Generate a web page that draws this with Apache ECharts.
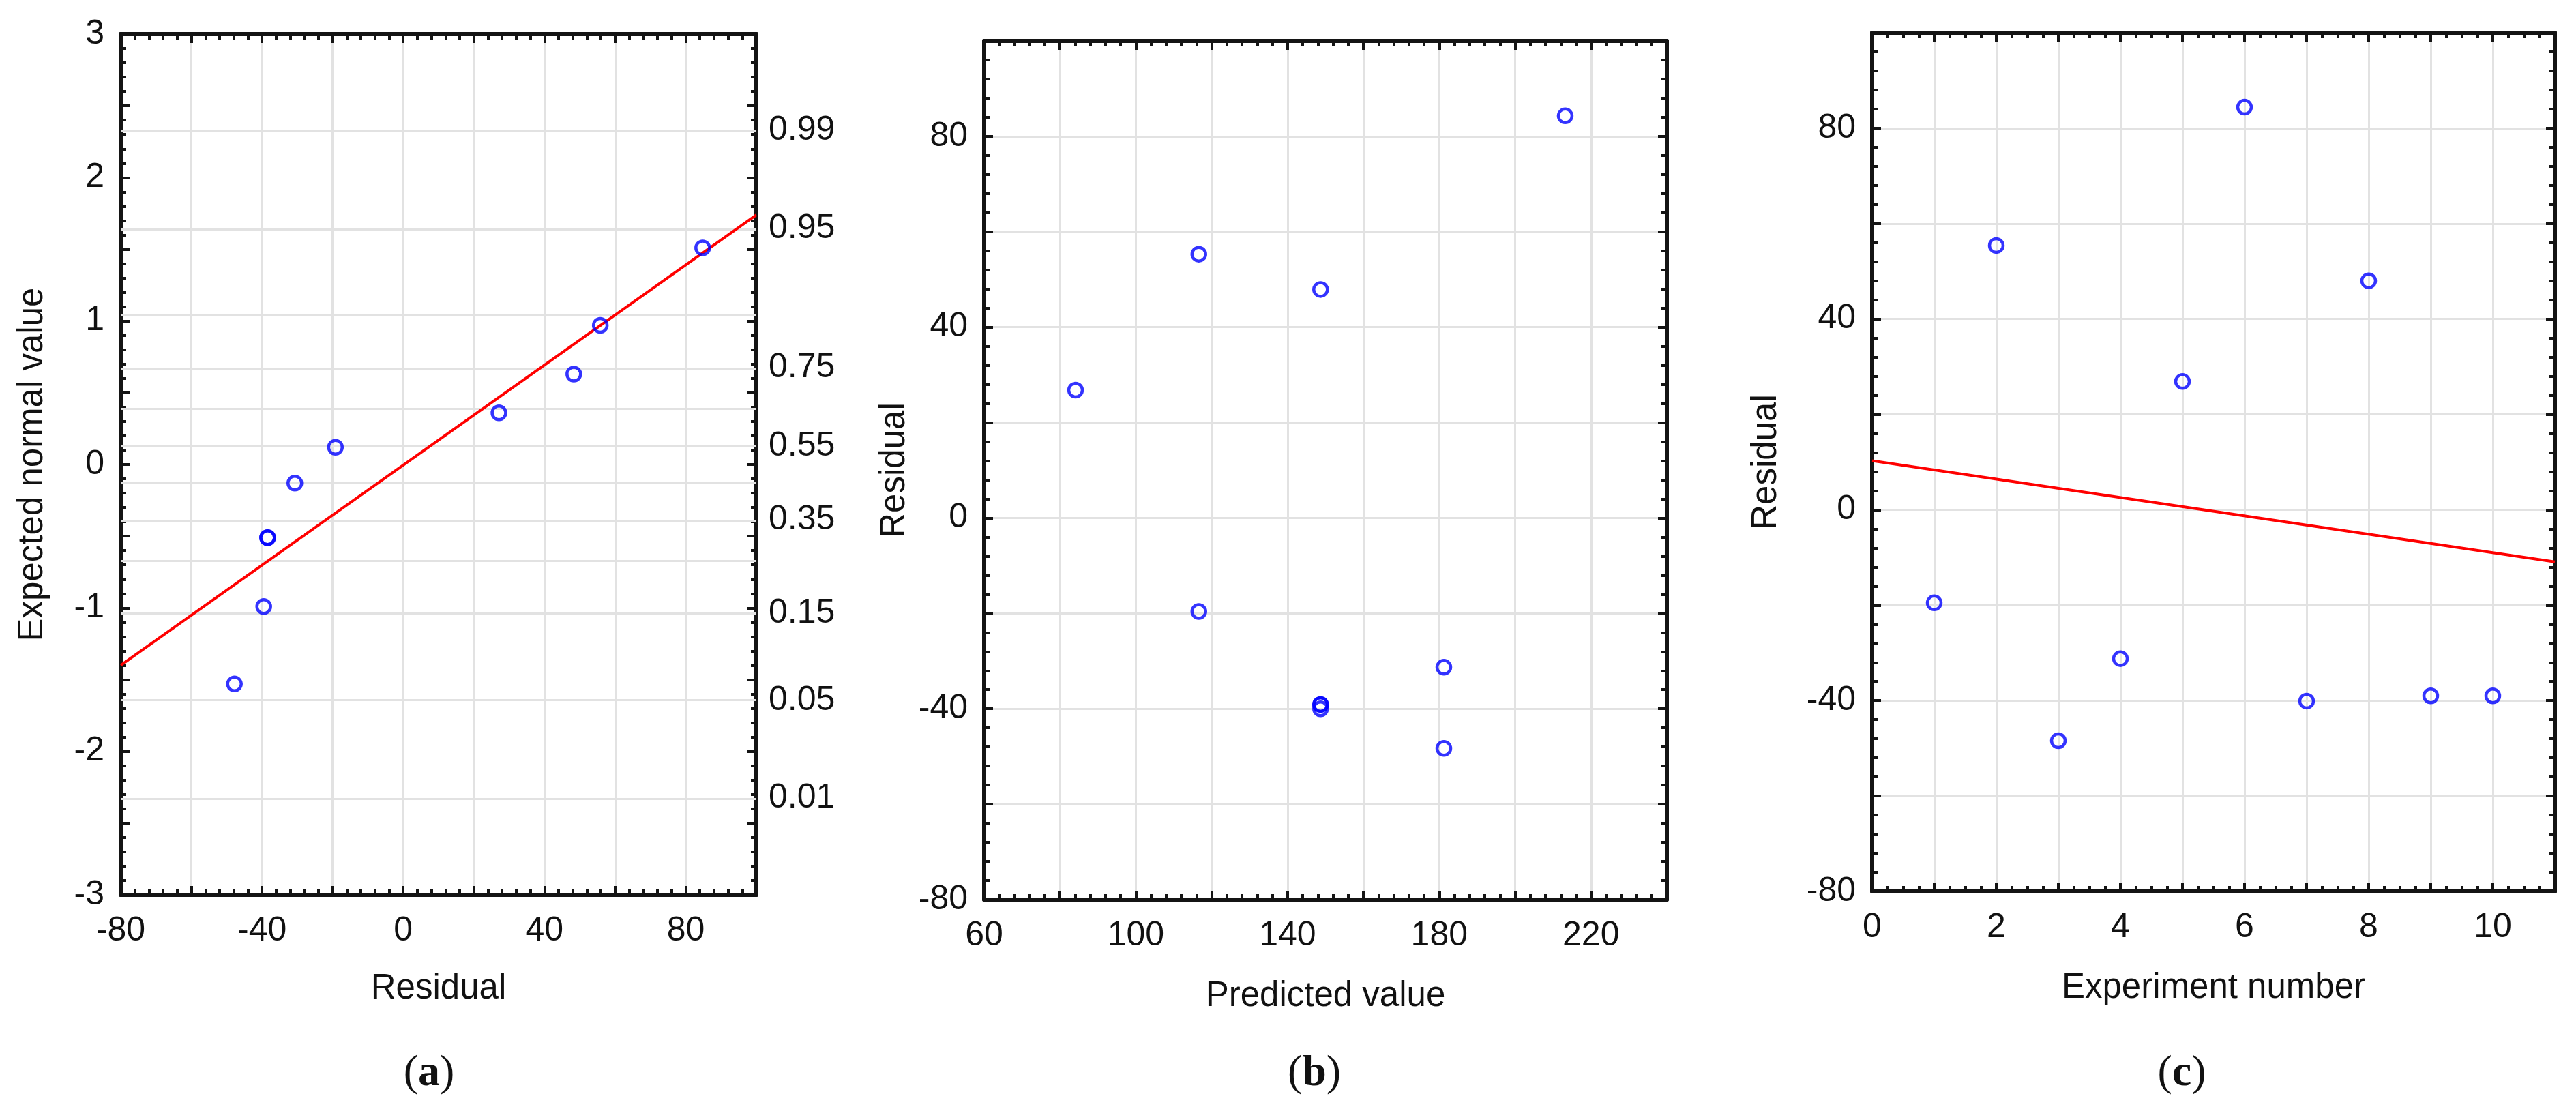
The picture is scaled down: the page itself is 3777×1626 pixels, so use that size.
<!DOCTYPE html>
<html>
<head>
<meta charset="utf-8">
<title>Residual analysis</title>
<script src="https://cdn.jsdelivr.net/npm/echarts@6/dist/echarts.min.js"></script>
<style>
  html, body { margin: 0; padding: 0; background: #fff; }
  #chart { width: 3777px; height: 1626px; }
</style>
</head>
<body>
<div id="chart"></div>
<script>
  // (a) normal probability plot of the residuals
  var residualA = [-47.8, -39.5, -38.4, -38.4, -30.7, -19.2, 27.1, 48.3, 55.8, 84.8]
  var expectedNormal = [-1.53, -0.99, -0.51, -0.51, -0.13, 0.12, 0.36, 0.63, 0.97, 1.51]
  var fitAx = [-80, 100]
  var fitAy = [-1.40, 1.74]
  // probability levels on the right axis (grid lines at all, labels at some)
  var probGrid = [0.01, 0.05, 0.15, 0.25, 0.35, 0.45, 0.55, 0.65, 0.75, 0.85, 0.95, 0.99]
  var probLabels = ['0.01', '0.05', '0.15', '0.35', '0.55', '0.75', '0.95', '0.99']

  // (b) residual vs predicted value
  var predicted = [84.1, 116.6, 116.6, 148.7, 148.7, 148.7, 148.7, 181.2, 181.2, 213.2]
  var residualB = [26.8, 55.3, -19.6, 47.9, -39.1, -39.1, -40.0, -31.3, -48.3, 84.3]

  // (c) residual vs experiment number
  var experiment = [1, 2, 3, 4, 5, 6, 7, 8, 9, 10]
  var residualC = [-19.5, 55.4, -48.4, -31.2, 26.9, 84.4, -40.1, 48.0, -39.0, -39.0]
  var fitCx = [0, 11]
  var fitCy = [10.3, -10.9]

  // inverse standard normal (Acklam), used to place the probability scale
  function normInv(p) {
    var a = [-39.69683028665376, 220.9460984245205, -275.9285104469687, 138.3577518672690, -30.66479806614716, 2.506628277459239]
    var b = [-54.47609879822406, 161.5858368580409, -155.6989798598866, 66.80131188771972, -13.28068155288572]
    var c = [-0.007784894002430293, -0.3223964580411365, -2.400758277161838, -2.549732539343734, 4.374664141464968, 2.938163982698783]
    var d = [0.007784695709041462, 0.3224671290700398, 2.445134137142996, 3.754408661907416]
    var q, r
    if (p < 0.02425 || p > 0.97575) {
      q = Math.sqrt(-2 * Math.log(p < 0.5 ? p : 1 - p))
      var z = (((((c[0] * q + c[1]) * q + c[2]) * q + c[3]) * q + c[4]) * q + c[5]) /
        ((((d[0] * q + d[1]) * q + d[2]) * q + d[3]) * q + 1)
      return p < 0.5 ? z : -z
    }
    q = p - 0.5
    r = q * q
    return (((((a[0] * r + a[1]) * r + a[2]) * r + a[3]) * r + a[4]) * r + a[5]) * q /
      (((((b[0] * r + b[1]) * r + b[2]) * r + b[3]) * r + b[4]) * r + 1)
  }

  function zip(xs, ys) {
    return xs.map(function(x, i) { return [x, ys[i]] })
  }

  var FONT = 'Liberation Sans, Arial, sans-serif'
  var axisColor = '#141414'
  var gridColor = '#e2e2e2'

  // label only every `step`, counted from `base`
  function every(step, base) {
    base = base || 0
    return function(v) {
      var k = (v - base) / step
      return Math.abs(k - Math.round(k)) < 1e-6 ? String(Math.round(v * 100) / 100) : ''
    }
  }

  function axis(o) {
    return {
      type: 'value',
      gridIndex: o.grid,
      position: o.pos,
      min: o.min,
      max: o.max,
      interval: o.interval,
      axisLine: { show: true, onZero: false, lineStyle: { color: axisColor, width: 6 } },
      axisTick: { show: true, inside: true, length: 13, lineStyle: { color: axisColor, width: 4 } },
      minorTick: { show: true, splitNumber: o.minor, length: 8, lineStyle: { color: axisColor, width: 4 } },
      axisLabel: o.label ? {
        show: true, margin: o.margin, formatter: o.label, hideOverlap: false,
        fontFamily: FONT, fontSize: 50, color: '#111'
      } : { show: false },
      splitLine: { show: !!o.split, lineStyle: { color: gridColor, width: 3 } },
      name: o.name || '',
      nameLocation: 'middle',
      nameGap: o.nameGap,
      nameTextStyle: { fontFamily: FONT, fontSize: 51, color: '#111' }
    }
  }

  var probZ = probLabels.map(function(p) { return normInv(parseFloat(p)) })

  var xAxes = [
    axis({ grid: 0, pos: 'bottom', min: -80, max: 100, interval: 20, minor: 5, split: true, label: every(40), margin: 28, name: 'Residual', nameGap: 112 }),
    axis({ grid: 0, pos: 'top', min: -80, max: 100, interval: 20, minor: 5 }),
    axis({ grid: 1, pos: 'bottom', min: 60, max: 240, interval: 20, minor: 5, split: true, label: every(40, 60), margin: 28, name: 'Predicted value', nameGap: 116 }),
    axis({ grid: 1, pos: 'top', min: 60, max: 240, interval: 20, minor: 5 }),
    axis({ grid: 2, pos: 'bottom', min: 0, max: 11, interval: 1, minor: 4, split: true, label: every(2), margin: 28, name: 'Experiment number', nameGap: 116 }),
    axis({ grid: 2, pos: 'top', min: 0, max: 11, interval: 1, minor: 4 })
  ]

  var yAxes = [
    axis({ grid: 0, pos: 'left', min: -3, max: 3, interval: 0.5, minor: 5, label: every(1), margin: 24, name: 'Expected normal value', nameGap: 104 }),
    axis({ grid: 0, pos: 'right', min: -3, max: 3, interval: 0.5, minor: 5 }),
    {
      type: 'value', gridIndex: 0, position: 'right', min: -3, max: 3,
      axisLine: { show: false }, axisTick: { show: false }, splitLine: { show: false },
      axisLabel: {
        customValues: probZ,
        margin: 18,
        hideOverlap: false,
        fontFamily: FONT, fontSize: 50, color: '#111',
        formatter: function(v) {
          for (var i = 0; i < probZ.length; i++) {
            if (Math.abs(probZ[i] - v) < 1e-6) return probLabels[i]
          }
          return ''
        }
      }
    },
    axis({ grid: 1, pos: 'left', min: -80, max: 100, interval: 20, minor: 5, split: true, label: every(40), margin: 24, name: 'Residual', nameGap: 106 }),
    axis({ grid: 1, pos: 'right', min: -80, max: 100, interval: 20, minor: 5 }),
    axis({ grid: 2, pos: 'left', min: -80, max: 100, interval: 20, minor: 5, split: true, label: every(40), margin: 24, name: 'Residual', nameGap: 130 }),
    axis({ grid: 2, pos: 'right', min: -80, max: 100, interval: 20, minor: 5 })
  ]

  var marker = {
    type: 'scatter',
    symbol: 'circle',
    symbolSize: 20,
    z: 4,
    itemStyle: { color: 'rgba(0,0,0,0)', borderColor: '#0000ff', borderWidth: 4.5 }
  }

  function scatter(xi, yi, data) {
    return Object.assign({}, marker, { xAxisIndex: xi, yAxisIndex: yi, data: data })
  }

  function fitLine(xi, yi, data, extra) {
    return Object.assign({
      type: 'line', xAxisIndex: xi, yAxisIndex: yi, data: data,
      symbol: 'none', z: 3,
      lineStyle: { color: '#ff0000', width: 4 }
    }, extra || {})
  }

  function panelTag(letter, x) {
    return {
      type: 'text', x: x, y: 1574,
      style: {
        text: '{p|(}{b|' + letter + '}{p|)}',
        align: 'center', verticalAlign: 'middle',
        rich: {
          p: { fontFamily: 'Liberation Serif, Times New Roman, serif', fontSize: 64, fill: '#111' },
          b: { fontFamily: 'Liberation Serif, Times New Roman, serif', fontSize: 64, fontWeight: 'bold', fill: '#111' }
        }
      }
    }
  }

  var chart = echarts.init(document.getElementById('chart'), null, { renderer: 'canvas' })
  var option = {
    backgroundColor: '#ffffff',
    animation: false,
    grid: [
      { left: 177, top: 50, width: 932, height: 1262 },
      { left: 1443, top: 60, width: 1001, height: 1259 },
      { left: 2745, top: 48, width: 1001, height: 1259 }
    ],
    xAxis: xAxes,
    yAxis: yAxes,
    series: [
      fitLine(0, 0, zip(fitAx, fitAy), {
        markLine: {
          silent: true,
          symbol: 'none',
          z: 1,
          label: { show: false },
          lineStyle: { color: gridColor, width: 3, type: 'solid' },
          data: probGrid.map(function(p) { return { yAxis: normInv(p) } })
        }
      }),
      scatter(0, 0, zip(residualA, expectedNormal)),
      scatter(2, 3, zip(predicted, residualB)),
      fitLine(4, 5, zip(fitCx, fitCy)),
      scatter(4, 5, zip(experiment, residualC))
    ],
    graphic: [
      panelTag('a', 629),
      panelTag('b', 1927),
      panelTag('c', 3199)
    ]
  }
  chart.setOption(option)
</script>
</body>
</html>
